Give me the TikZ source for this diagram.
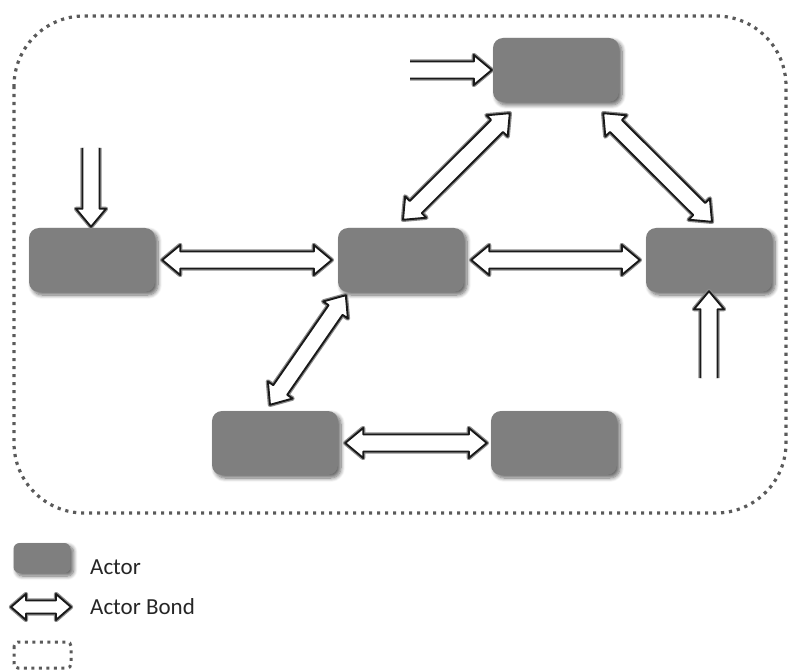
\documentclass[tikz,border=0pt]{standalone}
\usepackage{fontspec}
\setmainfont{Carlito}
\usetikzlibrary{calc,shadows.blur}
\definecolor{actorgray}{HTML}{7F7F7F}
\definecolor{dotgray}{HTML}{5A5A5A}
\definecolor{txtgray}{HTML}{262626}
\def\arrS{8.5pt}
\def\arrH{15pt}
\def\arrL{18pt}
\tikzset{
  actor/.style={rectangle, rounded corners=10pt, fill=actorgray, minimum width=126pt, minimum height=64pt, inner sep=0pt,
    blur shadow={shadow xshift=3pt, shadow yshift=-3pt, shadow blur steps=8, shadow blur radius=4pt, shadow opacity=60}},
  arrowglow/.style={draw=black!45, line width=4.4pt, line join=round},
  arrowmain/.style={draw=black!90, line width=1.9pt, fill=white, line join=round},
  boundary/.style={draw=dotgray, line width=3.2pt, dash pattern=on 3.2pt off 4.8pt, line cap=butt},
  legendtext/.style={text=txtgray, font=\fontsize{23}{27}\selectfont, inner sep=0pt, anchor=base west}
}
\newcommand\bondpath[3]{%
  \path[#3] (#1) -- ($(ba1)!\arrH!90:(#2)$) -- ($(ba1)!\arrS!90:(#2)$) -- ($(ba2)!\arrS!90:(#2)$) -- ($(ba2)!\arrH!90:(#2)$) -- (#2)
    -- ($(ba2)!\arrH!-90:(#2)$) -- ($(ba2)!\arrS!-90:(#2)$) -- ($(ba1)!\arrS!-90:(#2)$) -- ($(ba1)!\arrH!-90:(#2)$) -- cycle;}
\newcommand\bondarrow[2]{%
  \coordinate (ba1) at ($(#1)!\arrL!(#2)$);
  \coordinate (ba2) at ($(#2)!\arrL!(#1)$);
  \bondpath{#1}{#2}{arrowglow}\bondpath{#1}{#2}{arrowmain}}
\newcommand\inpath[3]{%
  \path[#3] ($(#1)!\arrS!90:(#2)$) -- ($(ia)!\arrS!90:(#2)$) -- ($(ia)!\arrH!90:(#2)$) -- (#2)
    -- ($(ia)!\arrH!-90:(#2)$) -- ($(ia)!\arrS!-90:(#2)$) -- ($(#1)!\arrS!-90:(#2)$);}
\newcommand\inarrow[2]{%
  \coordinate (ia) at ($(#2)!\arrL!(#1)$);
  \inpath{#1}{#2}{arrowglow}\inpath{#1}{#2}{arrowmain}}
\begin{document}
\begin{tikzpicture}[x=1pt,y=-1pt]
\useasboundingbox (0,0) rectangle (790,671);
% boundary
\draw[boundary, rounded corners=70pt] (14,16) rectangle (786,513);
% actors
\node[actor] (top) at (556,70) {};
\node[actor] (left) at (92,260) {};
\node[actor] (mid) at (401,260) {};
\node[actor] (right) at (709,260) {};
\node[actor] (bl) at (275,443) {};
\node[actor] (br) at (554,443) {};
% free ends of incoming arrows
\coordinate (in1) at (410,70);
\coordinate (in2) at (91,148);
\coordinate (in3) at (709,378);
% arrow end points
\coordinate (a1) at ($(left.east)+(7,0)$);
\coordinate (a2) at ($(mid.west)+(-6,0)$);
\coordinate (b1) at ($(mid.east)+(7,0)$);
\coordinate (b2) at ($(right.west)+(-6,0)$);
\coordinate (c1) at ($(mid.north)+(2,-8)$);
\coordinate (c2) at ($(top.south west)+(17,11)$);
\coordinate (d1) at ($(top.south east)+(-16,11)$);
\coordinate (d2) at ($(right.north)+(3,-6)$);
\coordinate (e1) at ($(mid.south west)+(8,3)$);
\coordinate (e2) at ($(bl.north)+(-5,-6)$);
\coordinate (f1) at ($(bl.east)+(7,0)$);
\coordinate (f2) at ($(br.west)+(-4,0)$);
\coordinate (t1) at ($(top.west)+(-1,0)$);
\coordinate (t2) at ($(left.north)+(-1,-1)$);
\coordinate (t3) at ($(right.south)+(0,-1)$);
% connectors
\inarrow{in1}{t1}
\inarrow{in2}{t2}
\inarrow{in3}{t3}
\bondarrow{a1}{a2}
\bondarrow{b1}{b2}
\bondarrow{c1}{c2}
\bondarrow{d1}{d2}
\bondarrow{e1}{e2}
\bondarrow{f1}{f2}
% legend
\node[actor, minimum width=57pt, minimum height=30pt, rounded corners=6pt] (lgactor) at (42,558) {};
\node[legendtext] (lgt1) at (90,574) {Actor};
\coordinate (lg1) at (11,607);
\coordinate (lg2) at (71,607);
\begin{scope}
\def\arrS{6.5pt}\def\arrH{13pt}\def\arrL{15pt}
\bondarrow{lg1}{lg2}
\end{scope}
\node[legendtext] (lgt2) at (90,614) {Actor Bond};
\draw[boundary, line width=3pt, dash pattern=on 3pt off 4.5pt, rounded corners=4pt] (14,642) rectangle (71,668);
\end{tikzpicture}
\end{document}
